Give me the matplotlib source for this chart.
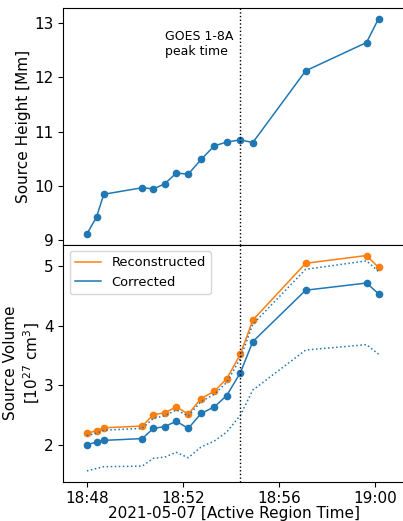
import matplotlib

matplotlib.use("Agg")
import matplotlib.dates as mdates
import matplotlib.pyplot as plt
import numpy as np

times = [
    "2021-05-07 18:48:00", "2021-05-07 18:48:24", "2021-05-07 18:48:42",
    "2021-05-07 18:50:18", "2021-05-07 18:50:46", "2021-05-07 18:51:14",
    "2021-05-07 18:51:43", "2021-05-07 18:52:13", "2021-05-07 18:52:45",
    "2021-05-07 18:53:18", "2021-05-07 18:53:49", "2021-05-07 18:54:23",
    "2021-05-07 18:54:54", "2021-05-07 18:57:06", "2021-05-07 18:59:38",
    "2021-05-07 19:00:08",
]
height = [9.12, 9.43, 9.85, 9.97, 9.95, 10.04, 10.24, 10.22,
          10.49, 10.74, 10.81, 10.85, 10.80, 12.12, 12.64, 13.08]
vol_reconstructed = [2.20, 2.24, 2.29, 2.32, 2.51, 2.54, 2.64, 2.52,
                     2.78, 2.90, 3.11, 3.52, 4.09, 5.04, 5.17, 4.97]
vol_corrected = [2.01, 2.05, 2.08, 2.11, 2.28, 2.31, 2.40, 2.28,
                 2.53, 2.64, 2.83, 3.21, 3.73, 4.59, 4.71, 4.53]
vol_upper = [2.16, 2.20, 2.25, 2.28, 2.45, 2.49, 2.59, 2.49,
             2.73, 2.85, 3.05, 3.45, 4.02, 4.94, 5.08, 4.90]
vol_lower = [1.57, 1.61, 1.64, 1.65, 1.78, 1.80, 1.88, 1.79,
             1.97, 2.07, 2.22, 2.50, 2.92, 3.59, 3.68, 3.52]
peak_time = "2021-05-07 18:54:23"

t = np.array(times, dtype="datetime64[s]")
t_peak = np.datetime64(peak_time, "s")

plt.rcParams["font.size"] = 11

fig, (ax1, ax2) = plt.subplots(2, 1, sharex=True, figsize=(4.03, 5.21), dpi=100)
fig.subplots_adjust(left=0.157, right=1.006, top=0.985, bottom=0.0755, hspace=0)

ax1.plot(t, height, "-o", color="C0", ms=4.5, lw=1.1)
ax1.axvline(t_peak, color="k", ls=":", lw=1)
ax1.text(np.datetime64("2021-05-07 18:51:16"), 12.62, "GOES 1-8A\npeak time",
         ha="left", va="center", fontsize=9)
ax1.set_ylabel("Source Height [Mm]", labelpad=2)
ax1.set_yticks([9, 10, 11, 12, 13])

ax2.plot(t, vol_reconstructed, "-o", color="C1", ms=4.5, lw=1.1)
ax2.plot(t, vol_corrected, "-o", color="C0", ms=4.5, lw=1.1)
ax2.plot(t, vol_upper, ":", color="C0", lw=1.1)
ax2.plot(t, vol_lower, ":", color="C0", lw=1.1)
ax2.axvline(t_peak, color="k", ls=":", lw=1)
ax2.plot([], [], color="C1", lw=1.1, label="Reconstructed")
ax2.plot([], [], color="C0", lw=1.1, label="Corrected")
ax2.legend(loc="upper left", fontsize=9.4)
ax2.set_ylabel("Source Volume\n[$10^{27}$ cm$^3$]", labelpad=1.5)
ax2.set_yticks([2, 3, 4, 5])

ax2.set_xlim(np.datetime64("2021-05-07 18:47:01"), np.datetime64("2021-05-07 19:01:15"))
ax2.xaxis.set_major_locator(mdates.MinuteLocator(byminute=range(0, 60, 4)))
ax2.xaxis.set_major_formatter(mdates.DateFormatter("%H:%M"))
ax2.set_xlabel("2021-05-07 [Active Region Time]", labelpad=0)

fig.savefig("out.png", dpi=100)
